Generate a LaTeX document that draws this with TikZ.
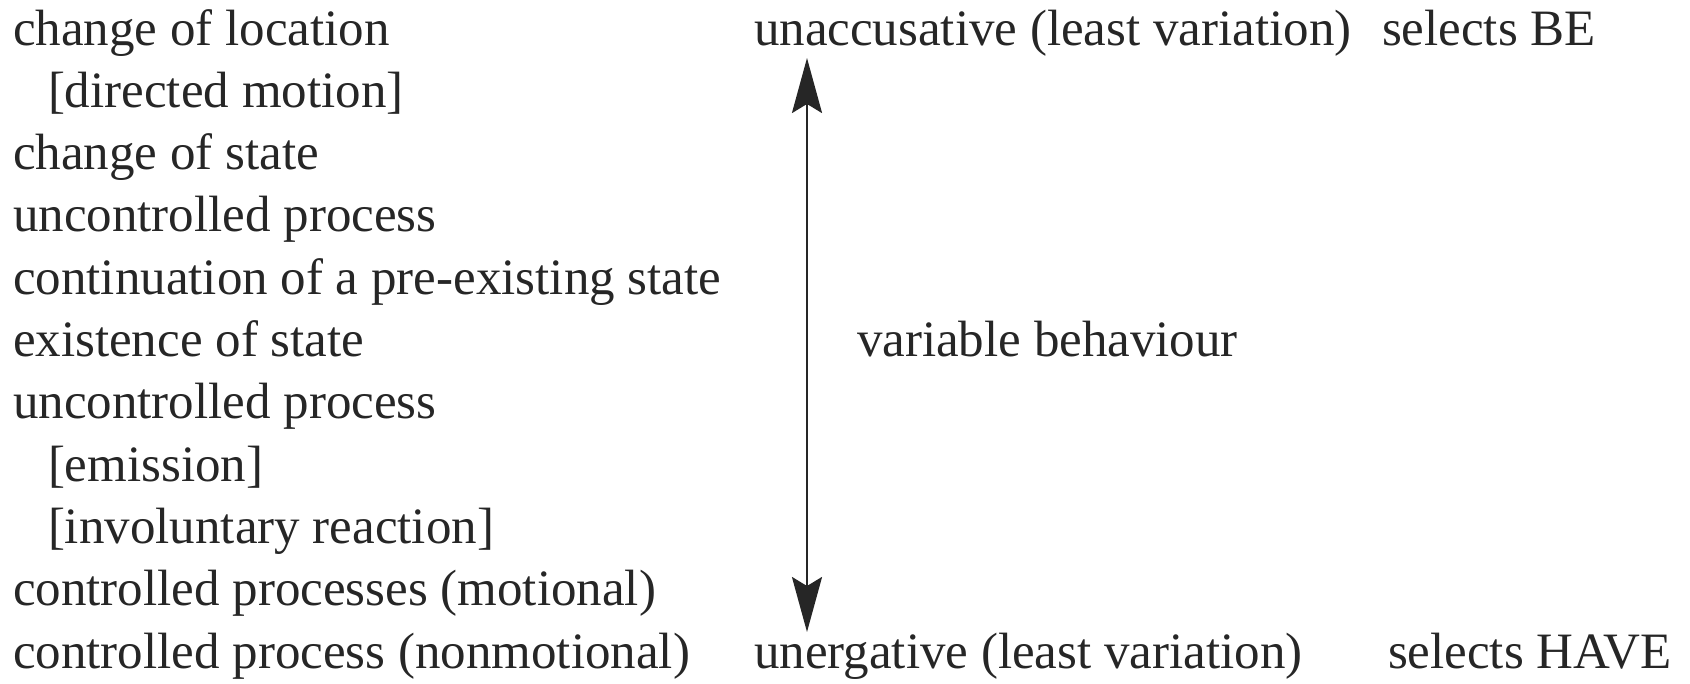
\documentclass[tikz,border=0pt]{standalone}
\usepackage{fontspec}
\setmainfont{Liberation Serif}
\usetikzlibrary{arrows.meta}
\tikzset{
  lbl/.style={anchor=base west,inner sep=0pt,outer sep=0pt,font=\fontsize{51}{60}\selectfont,text=black!85},
  axis/.style={line width=2.5pt,black!85,{Stealth[length=55pt,width=30pt,inset=9pt]}-{Stealth[length=55pt,width=30pt,inset=9pt]}}
}
\begin{document}
\begin{tikzpicture}[x=1pt,y=-1pt]
\useasboundingbox (0,0) rectangle (1690,683);
\node[lbl] (l1) at (13,45) {change of location};
\node[lbl] (l2) at (48,107.3) {[directed motion]};
\node[lbl] (l3) at (13,169.6) {change of state};
\node[lbl] (l4) at (13,231.9) {uncontrolled process};
\node[lbl] (l5) at (13,294.2) {continuation of a pre-existing state};
\node[lbl] (l6) at (13,356.5) {existence of state};
\node[lbl] (l7) at (13,418.8) {uncontrolled process};
\node[lbl] (l8) at (48,481.1) {[emission]};
\node[lbl] (l9) at (48,543.4) {[involuntary reaction]};
\node[lbl] (l10) at (13,605.7) {controlled processes (motional)};
\node[lbl] (l11) at (13,668) {controlled process (nonmotional)};
\node[lbl] (top) at (754,45) {unaccusative (least variation)};
\node[lbl] (be) at (1382,45) {selects BE};
\node[lbl] (var) at (857,356.5) {variable behaviour};
\node[lbl] (bot) at (754,668) {unergative (least variation)};
\node[lbl] (have) at (1388,668) {selects HAVE};
\coordinate (atop) at (807,58);
\coordinate (abot) at (807,632);
\draw[axis] (atop) -- (abot);
\end{tikzpicture}
\end{document}
